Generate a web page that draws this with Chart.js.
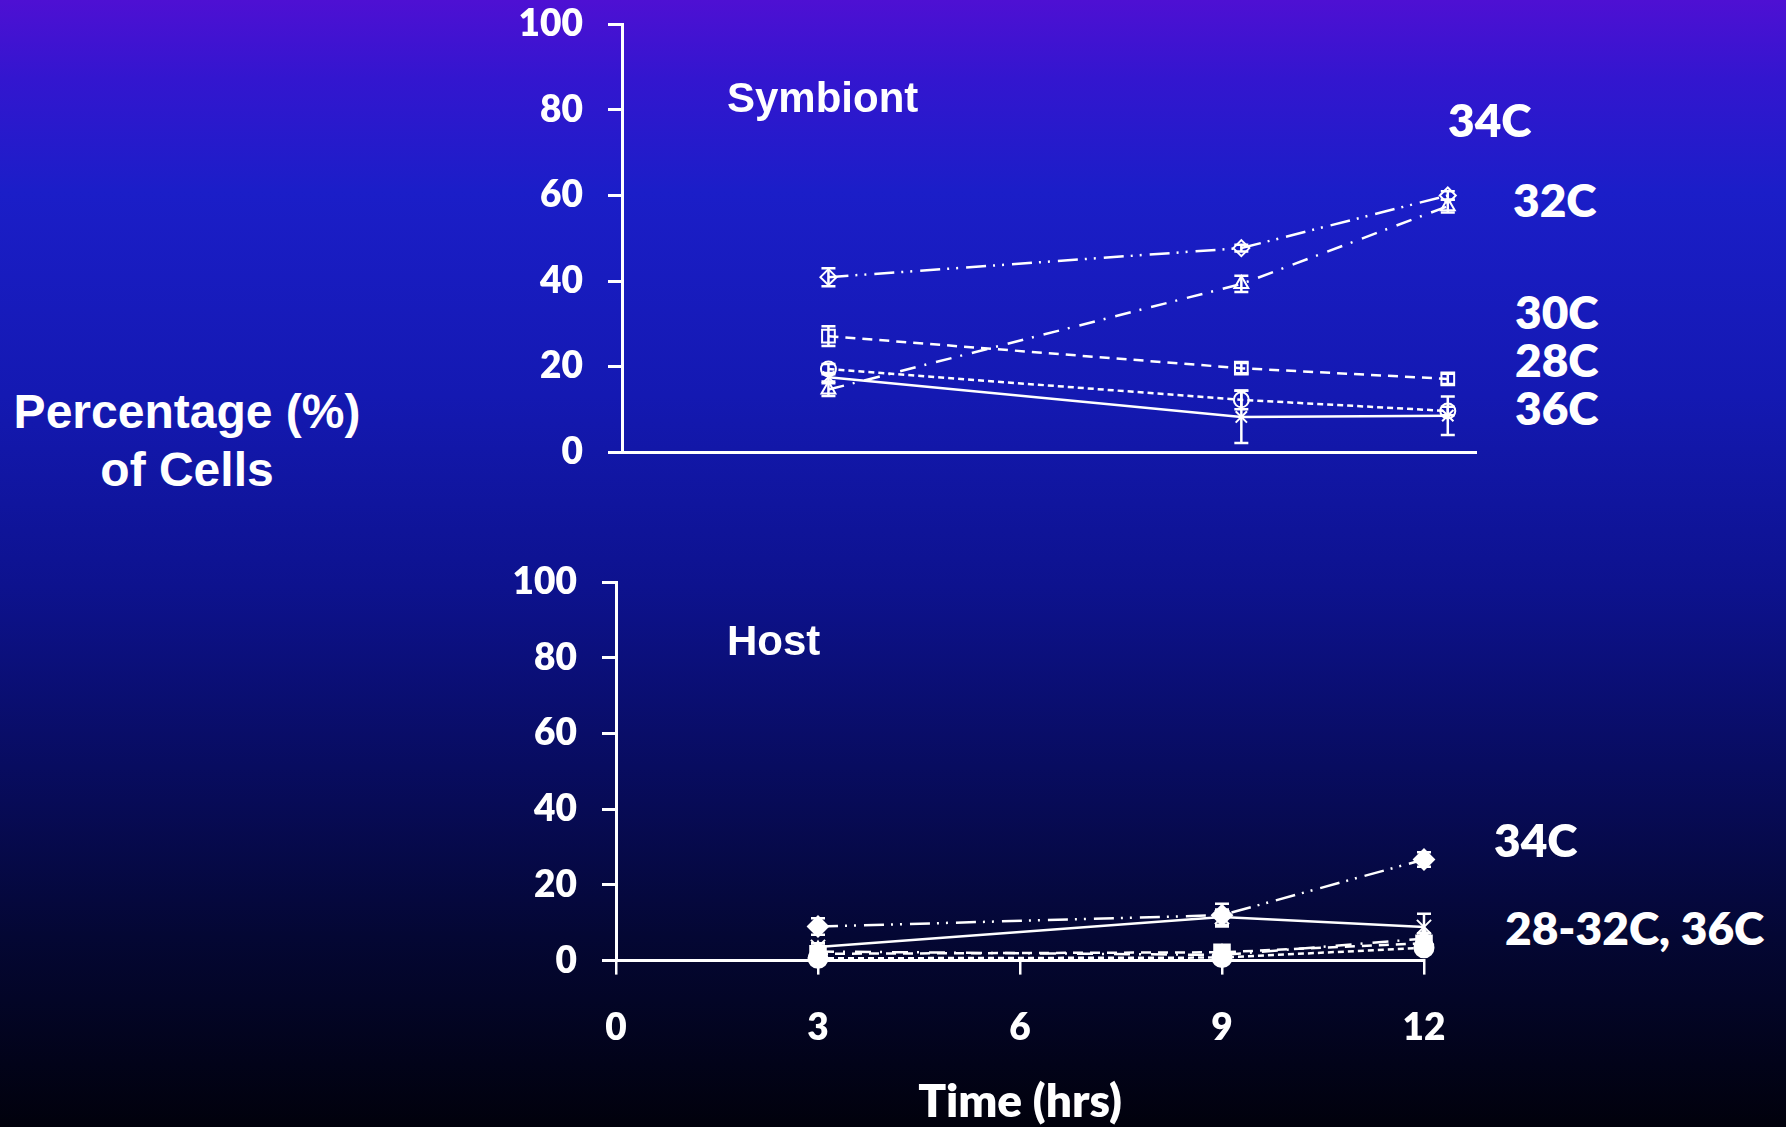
<!DOCTYPE html>
<html>
<head>
<meta charset="utf-8">
<title>Symbiont / Host cells</title>
<script src="https://cdn.jsdelivr.net/npm/chart.js@4.4.1/dist/chart.umd.min.js"></script>
<style>
  html, body { margin: 0; padding: 0; }
  body {
    width: 1786px; height: 1127px; overflow: hidden; position: relative;
    background: linear-gradient(to bottom, #4e10d3 0%, #3316cf 7%, #1b1ec8 17%, #1419b2 35%, #0d128e 52%, #080c60 68%, #040734 83%, #01010c 100%);
    color: #fff;
  }
  canvas { position: absolute; }
  .lbl { position: absolute; white-space: nowrap; font-weight: 700; line-height: 1; transform: translateY(-50%); }
  .arial { font-family: "Liberation Sans", Arial, sans-serif; }
  .cal { font-family: "Lato", sans-serif; font-size: 46px; font-weight: 800; }
</style>
</head>
<body>

<canvas id="symbiontChart" width="1018" height="480" style="left:482px; top:0px;"></canvas>
<canvas id="hostChart" width="1024" height="587" style="left:476px; top:540px;"></canvas>

<div class="lbl arial" style="left:187px; top:412px; font-size:48px; transform:translate(-50%,-50%);">Percentage (%)</div>
<div class="lbl arial" style="left:187px; top:470px; font-size:48px; transform:translate(-50%,-50%);">of Cells</div>

<div class="lbl arial" style="left:727px; top:98px; font-size:42px;">Symbiont</div>
<div class="lbl arial" style="left:727px; top:641px; font-size:42px;">Host</div>

<div class="lbl cal" style="left:1448px; top:120px;">34C</div>
<div class="lbl cal" style="left:1513px; top:200px;">32C</div>
<div class="lbl cal" style="left:1515px; top:312px;">30C</div>
<div class="lbl cal" style="left:1515px; top:360px;">28C</div>
<div class="lbl cal" style="left:1515px; top:408px;">36C</div>

<div class="lbl cal" style="left:1494px; top:840px;">34C</div>
<div class="lbl cal" style="left:1505px; top:928px;">28-32C, 36C</div>

<script>
// time points (hrs)
const hours = [3, 9, 12];
const xTicks = [0, 3, 6, 9, 12];
const yTicks = [0, 20, 40, 60, 80, 100];

// symbiont, % of cells
const symbiont34 = [40.9, 47.7, 60.0];
const symbiont32 = [14.6, 39.3, 57.5];
const symbiont30 = [27.1, 19.6, 17.1];
const symbiont28 = [19.4, 12.2, 9.6];
const symbiont36 = [17.5, 8.2, 8.5];

const symbiont34Err = [2.1, 0.8, 1.0];
const symbiont32Err = [1.5, 1.9, 1.5];
const symbiont30Err = [2.3, 1.2, 1.2];
const symbiont28Err = [1.2, 2.2, 1.0];
const symbiont36Err = [1.0, 6.1, 4.5];

// host, % of cells
const host34 = [9.0, 12.0, 26.7];
const host36 = [3.6, 11.5, 8.9];
const host32 = [2.4, 1.5, 5.8];
const host30 = [1.8, 2.2, 4.6];
const host28 = [0.6, 0.8, 3.4];

const host34Err = [2.2, 3.0, 1.9];
const host36Err = [1.0, 2.0, 3.5];
const host32Err = [1.6, 1.2, 1.4];
const host30Err = [1.5, 1.2, 1.4];
const host28Err = [1.0, 0.8, 1.0];

const WHITE = "#ffffff";

// line look per temperature
const styles = {
  "34C": { dash: [20, 7, 2, 7, 2, 8], point: "rectRot", r: 8 },
  "32C": { dash: [16, 9, 2, 10], point: "triangle", r: 8 },
  "30C": { dash: [10, 7], point: "rect", r: 9 },
  "28C": { dash: [6, 4], point: "circle", r: 7.5 },
  "36C": { dash: [], point: "crossRot", r: 8 }
};

function makeSeries(label, values, errors, filled) {
  const st = styles[label];
  return {
    label,
    data: hours.map((h, i) => ({ x: h, y: values[i] })),
    errors,
    borderColor: WHITE,
    borderWidth: 2.5,
    borderDash: st.dash,
    pointStyle: st.point,
    pointRadius: filled ? st.r + 2 : st.r,
    pointBorderWidth: 2,
    pointBorderColor: WHITE,
    pointBackgroundColor: filled ? WHITE : "rgba(0,0,0,0)",
    tension: 0,
    clip: false
  };
}

const errorBars = {
  id: "errorBars",
  afterDatasetsDraw(chart) {
    const ctx = chart.ctx;
    const yScale = chart.scales.y;
    chart.data.datasets.forEach((ds, i) => {
      if (!ds.errors) return;
      const meta = chart.getDatasetMeta(i);
      ctx.save();
      ctx.strokeStyle = WHITE;
      ctx.lineWidth = 2.5;
      meta.data.forEach((pt, j) => {
        const e = ds.errors[j];
        if (!e) return;
        const v = ds.data[j].y;
        const top = yScale.getPixelForValue(v + e);
        const bot = yScale.getPixelForValue(Math.max(v - e, -2));
        ctx.beginPath();
        ctx.moveTo(pt.x, top); ctx.lineTo(pt.x, bot);
        ctx.moveTo(pt.x - 7, top); ctx.lineTo(pt.x + 7, top);
        ctx.moveTo(pt.x - 7, bot); ctx.lineTo(pt.x + 7, bot);
        ctx.stroke();
      });
      ctx.restore();
    });
  }
};

const tickFont = { family: "Lato", weight: 800, size: 37 };

function yAxis() {
  return {
    min: 0,
    max: 100,
    afterBuildTicks: s => { s.ticks = yTicks.map(v => ({ value: v })); },
    afterFit: s => { s.width = 140; s.paddingTop = 0; s.paddingBottom = 0; },
    ticks: { color: WHITE, font: tickFont, padding: 25 },
    grid: { drawOnChartArea: false, drawTicks: true, tickLength: 14, color: WHITE, lineWidth: 3 },
    border: { display: true, color: WHITE, width: 3 }
  };
}

new Chart(document.getElementById("symbiontChart"), {
  type: "line",
  data: {
    datasets: [
      makeSeries("34C", symbiont34, symbiont34Err, false),
      makeSeries("32C", symbiont32, symbiont32Err, false),
      makeSeries("30C", symbiont30, symbiont30Err, false),
      makeSeries("28C", symbiont28, symbiont28Err, false),
      makeSeries("36C", symbiont36, symbiont36Err, false)
    ]
  },
  options: {
    responsive: false,
    animation: false,
    layout: { padding: { top: 24.5, right: 24, bottom: 0, left: 0 } },
    plugins: { legend: { display: false }, tooltip: { enabled: false } },
    scales: {
      x: {
        type: "linear",
        min: 0,
        max: 12.41,
        afterFit: s => { s.height = 28; },
        ticks: { display: false },
        grid: { drawOnChartArea: false, drawTicks: false },
        border: { display: true, color: WHITE, width: 3 }
      },
      y: yAxis()
    }
  },
  plugins: [errorBars]
});

new Chart(document.getElementById("hostChart"), {
  type: "line",
  data: {
    datasets: [
      makeSeries("34C", host34, host34Err, true),
      makeSeries("32C", host32, host32Err, true),
      makeSeries("30C", host30, host30Err, true),
      makeSeries("28C", host28, host28Err, true),
      makeSeries("36C", host36, host36Err, true)
    ]
  },
  options: {
    responsive: false,
    animation: false,
    layout: { padding: { top: 42, right: 76, bottom: 0, left: 0 } },
    plugins: { legend: { display: false }, tooltip: { enabled: false } },
    scales: {
      x: {
        type: "linear",
        min: 0,
        max: 12,
        afterBuildTicks: s => { s.ticks = xTicks.map(v => ({ value: v })); },
        afterFit: s => { s.height = 166.4; },
        ticks: { color: WHITE, font: tickFont, padding: 31, maxRotation: 0 },
        grid: { drawOnChartArea: false, drawTicks: true, tickLength: 14, color: WHITE, lineWidth: 2.5 },
        border: { display: true, color: WHITE, width: 3 },
        title: {
          display: true,
          text: "Time (hrs)",
          color: WHITE,
          font: { family: "Lato", weight: 800, size: 46, lineHeight: 1.08 },
          padding: { top: 0, bottom: 0 }
        }
      },
      y: yAxis()
    }
  },
  plugins: [errorBars]
});
</script>
</body>
</html>
